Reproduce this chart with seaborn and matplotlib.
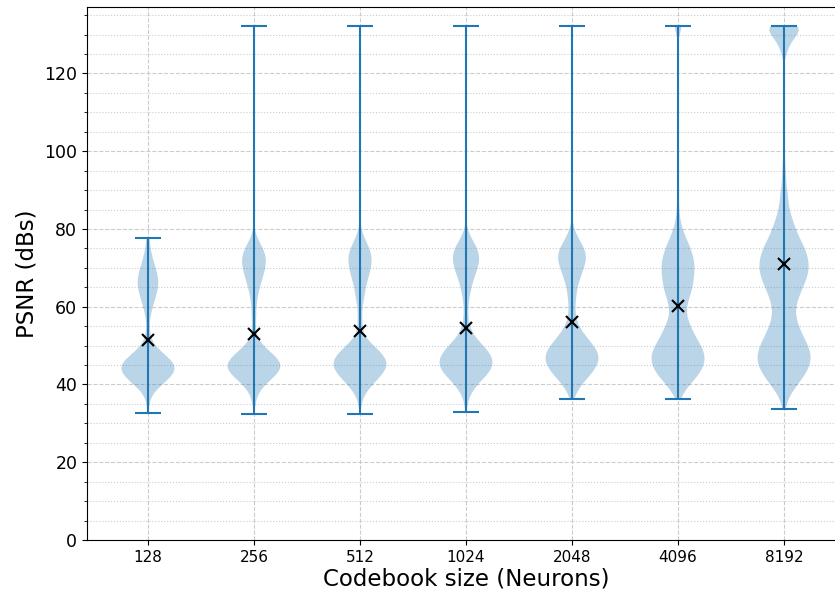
import numpy as np
import pandas as pd
import matplotlib
matplotlib.use("Agg")
import matplotlib.pyplot as plt
import seaborn as sns
from matplotlib.ticker import MultipleLocator

# ---------------- data ----------------
codebook_sizes = ["128", "256", "512", "1024", "2048", "4096", "8192"]

# PSNR levels (dB) at which the sample counts below were read
psnr_levels = [35.0, 37.5, 40.0, 42.5, 45.0, 47.5, 50.0, 52.5, 55.0, 57.5,
               60.0, 62.5, 65.0, 67.5, 70.0, 72.5, 75.0, 77.5, 80.0, 82.5,
               85.0, 87.5, 90.0, 92.5, 95.0, 97.5, 100.0, 102.5, 105.0, 107.5,
               110.0, 112.5, 115.0, 117.5, 120.0, 122.5, 125.0, 127.5, 130.0]

counts_128 = [2, 6, 24, 44, 50, 30, 10, 4, 2, 4, 8, 13, 18, 18, 13, 8, 4, 2, 0,
              0, 0, 0, 0, 0, 0, 0, 0, 0, 0, 0, 0, 0, 0, 0, 0, 0, 0, 0, 0]
counts_256 = [2, 6, 18, 40, 52, 36, 14, 4, 3, 4, 4, 6, 10, 15, 20, 22, 16, 6, 0,
              0, 0, 0, 0, 0, 0, 0, 0, 0, 0, 0, 0, 0, 0, 0, 0, 0, 0, 0, 0]
counts_512 = [2, 8, 22, 40, 52, 44, 24, 6, 4, 4, 4, 8, 10, 15, 20, 22, 18, 8, 2,
              0, 0, 0, 0, 0, 0, 0, 0, 0, 0, 0, 0, 0, 0, 0, 0, 0, 0, 0, 0]
counts_1024 = [2, 8, 20, 40, 52, 48, 32, 14, 6, 4, 4, 6, 10, 15, 22, 26, 22, 10, 2,
               0, 0, 0, 0, 0, 0, 0, 0, 0, 0, 0, 0, 0, 0, 0, 0, 0, 0, 0, 0]
counts_2048 = [0, 6, 18, 36, 50, 54, 42, 26, 12, 7, 6, 8, 10, 16, 23, 29, 25, 12, 4,
               0, 0, 0, 0, 0, 0, 0, 0, 0, 0, 0, 0, 0, 0, 0, 0, 0, 0, 0, 0]
counts_4096 = [0, 8, 22, 40, 50, 52, 44, 32, 24, 16, 16, 22, 28, 30, 32, 30, 24, 16, 8,
               4, 2, 2, 2, 1, 0, 0, 0, 0, 0, 0, 0, 0, 0, 0, 0, 0, 0, 0, 0]
counts_8192 = [4, 12, 26, 40, 50, 52, 46, 36, 28, 22, 22, 28, 36, 44, 48, 46, 40, 30, 22,
               16, 10, 8, 6, 4, 3, 2, 2, 0, 0, 0, 0, 0, 0, 0, 0, 0, 4, 11, 22]

psnr_min = [32.6, 32.5, 32.4, 32.8, 36.3, 36.2, 33.6]
psnr_max = [77.6, 132.1, 132.1, 132.1, 132.1, 132.1, 132.1]
max_counts = [1, 1, 1, 1, 1, 11, 36]
psnr_mean = [51.4, 53.1, 53.8, 54.6, 56.1, 60.1, 71.1]

# ---------------- build the sample table ----------------
all_counts = [counts_128, counts_256, counts_512, counts_1024,
              counts_2048, counts_4096, counts_8192]
rows = []
for size, cnt, lo, hi, nhi in zip(codebook_sizes, all_counts, psnr_min, psnr_max, max_counts):
    vals = np.repeat(psnr_levels, cnt)
    vals = np.concatenate([vals, [lo], [hi] * nhi])
    rows.append(pd.DataFrame({"Codebook size": size, "PSNR": vals}))
df = pd.concat(rows, ignore_index=True)

# ---------------- plot ----------------
W, H = 835, 592
fig = plt.figure(figsize=(W / 100, H / 100), dpi=100)
ax = fig.add_axes([87 / W, 52 / H, 758 / W, 533 / H])

blue = "#1f77b4"
sns.violinplot(data=df, x="Codebook size", y="PSNR", order=codebook_sizes,
               inner=None, cut=0, density_norm="width", width=0.5,
               bw_method=lambda k: 1.8 / k.dataset.std(ddof=1),
               color=blue, saturation=1, linewidth=0, ax=ax)
for coll in ax.collections:
    coll.set_alpha(0.3)
    coll.set_edgecolor("none")

pos = np.arange(len(codebook_sizes))
ax.vlines(pos, psnr_min, psnr_max, color=blue, lw=1.5, zorder=3)
ax.hlines(psnr_min, pos - 0.125, pos + 0.125, color=blue, lw=1.5, zorder=3)
ax.hlines(psnr_max, pos - 0.125, pos + 0.125, color=blue, lw=1.5, zorder=3)
ax.plot(pos, psnr_mean, linestyle="none", marker="x", color="black",
        markersize=9, markeredgewidth=1.5, zorder=4)

ax.set_xlim(-0.575, 6.575)
ax.set_ylim(0, 137.1)
ax.yaxis.set_major_locator(MultipleLocator(20))
ax.yaxis.set_minor_locator(MultipleLocator(5))
ax.set_xticks(pos)
ax.set_xticklabels(codebook_sizes, fontsize=11)
ax.tick_params(axis="y", labelsize=12.5)

ax.set_axisbelow(True)
ax.grid(True, which="major", axis="both", linestyle="--", color="#cccccc", lw=0.8)
ax.grid(True, which="minor", axis="y", linestyle=":", color="#cccccc", lw=0.8)

ax.set_xlabel("Codebook size (Neurons)", fontsize=16.5, labelpad=2)
ax.set_ylabel("PSNR (dBs)", fontsize=16.5)

for s in ax.spines.values():
    s.set_visible(True)
    s.set_color("black")
    s.set_linewidth(0.8)

fig.savefig("out.png", dpi=100)
